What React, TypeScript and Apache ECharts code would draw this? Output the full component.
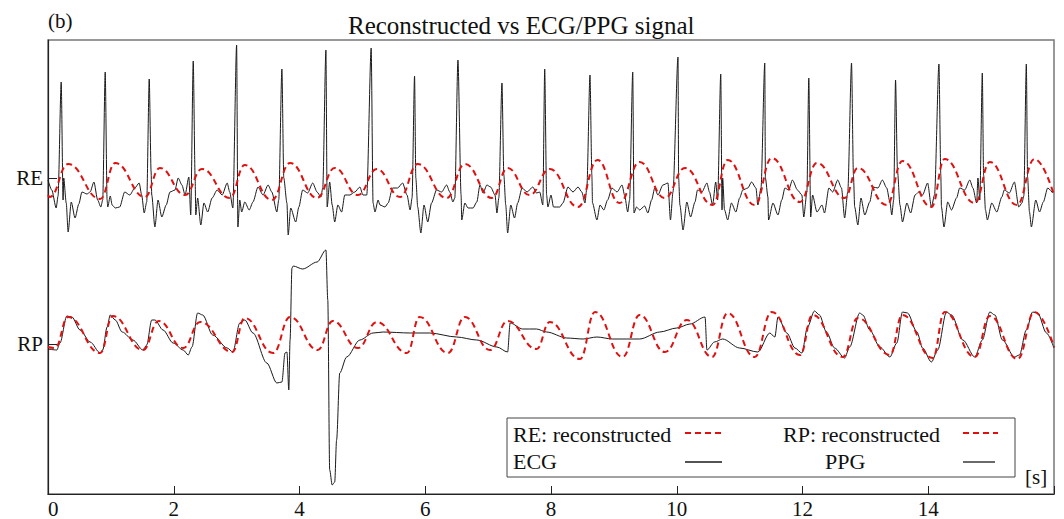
import React, { useEffect, useRef } from "react";
import * as echarts from "echarts";

// ---- data: [time s, amplitude] relative to each trace's baseline ----
const ecg: [number, number][] = [
  [0.0, -2], [0.06, -12], [0.13, -30], [0.16, -18], [0.21, 96], [0.24, -22], [0.25, 0], [0.29, -25], [0.32, -54],
  [0.37, -24], [0.43, -40], [0.49, -26], [0.54, -14], [0.62, -16], [0.67, -14], [0.73, -4], [0.79, -22], [0.84, -29],
  [0.87, -22], [0.91, 106], [0.94, -22], [0.95, -29], [0.99, -18], [1.02, -27], [1.07, -30], [1.14, -29], [1.22, -14],
  [1.3, -17], [1.38, -10], [1.45, -5], [1.49, -17], [1.53, -35], [1.57, -24], [1.61, 99], [1.64, 6], [1.65, -17],
  [1.7, -49], [1.75, -22], [1.81, -39], [1.88, -27], [1.94, -14], [2.02, -12], [2.07, 0], [2.13, -7], [2.18, -17],
  [2.24, 1], [2.27, -37], [2.31, 117], [2.34, 0], [2.35, -37], [2.38, -20], [2.43, -47], [2.48, -25], [2.54, -34],
  [2.61, -20], [2.69, -12], [2.77, -17], [2.85, -5], [2.89, -14], [2.94, -30], [3.0, 133], [3.02, -49], [3.05, -22],
  [3.08, -34], [3.13, -24], [3.2, -32], [3.26, -24], [3.34, -9], [3.42, -17], [3.5, -7], [3.56, -14], [3.64, -34],
  [3.67, -22], [3.72, 109], [3.75, 0], [3.8, -25], [3.82, -57], [3.86, -30], [3.94, -44], [3.99, -29], [4.05, -12],
  [4.13, -15], [4.21, -5], [4.28, -14], [4.34, -19], [4.37, -10], [4.42, 128], [4.44, -29], [4.48, -4], [4.52, -27],
  [4.56, -44], [4.61, -27], [4.67, -34], [4.72, -17], [4.8, -17], [4.88, -14], [4.96, -9], [5.01, -17], [5.07, -17],
  [5.14, 130], [5.17, -25], [5.2, -34], [5.25, -22], [5.28, -27], [5.36, -29], [5.41, -25], [5.48, -10], [5.56, -10],
  [5.64, -5], [5.71, -17], [5.76, -32], [5.79, -20], [5.83, 102], [5.85, 0], [5.88, -29], [5.93, -55], [5.98, -27],
  [6.04, -44], [6.1, -25], [6.18, -12], [6.26, -14], [6.34, -7], [6.39, -14], [6.44, -24], [6.47, -20], [6.52, 118],
  [6.57, -17], [6.58, -42], [6.63, -25], [6.68, -30], [6.76, -30], [6.82, -24], [6.87, -7], [6.92, -15], [6.98, -7],
  [7.04, -9], [7.11, -17], [7.14, -35], [7.17, -20], [7.22, 95], [7.25, 3], [7.28, -27], [7.31, -55], [7.36, -27],
  [7.42, -40], [7.47, -25], [7.54, -10], [7.62, -14], [7.71, -9], [7.77, -15], [7.82, -14], [7.87, -27], [7.9, 109],
  [7.93, -17], [7.95, -29], [8.0, -17], [8.04, -29], [8.14, -29], [8.19, -25], [8.27, -9], [8.35, -14], [8.43, -9],
  [8.49, -14], [8.54, -25], [8.57, -10], [8.62, 103], [8.65, 3], [8.66, -25], [8.73, -42], [8.78, -27], [8.84, -32],
  [8.9, -22], [8.97, -10], [9.05, -14], [9.13, -7], [9.17, -17], [9.22, -34], [9.25, -22], [9.3, 106], [9.32, -35],
  [9.36, -29], [9.41, -32], [9.49, -28], [9.54, -35], [9.6, -22], [9.65, -10], [9.7, -17], [9.78, -7], [9.86, -5],
  [9.9, -42], [9.94, -14], [10.02, 121], [10.03, 0], [10.05, -27], [10.1, -52], [10.16, -24], [10.22, -39], [10.29, -24],
  [10.33, -12], [10.4, -14], [10.48, -5], [10.52, -14], [10.57, -27], [10.62, -4], [10.65, -22], [10.7, 104], [10.72, -32],
  [10.73, 0], [10.76, -32], [10.81, -42], [10.87, -25], [10.94, -34], [11.0, -20], [11.05, -12], [11.13, -10], [11.19, -4],
  [11.26, -10], [11.29, -27], [11.34, -10], [11.4, 115], [11.41, 0], [11.45, -19], [11.46, -42], [11.53, -25], [11.61, -37],
  [11.67, -22], [11.72, -10], [11.78, -12], [11.84, -2], [11.92, -12], [11.99, -17], [12.02, -39], [12.07, -14], [12.1, 100],
  [12.13, -39], [12.16, -17], [12.23, -34], [12.31, -27], [12.35, -35], [12.42, -10], [12.48, -14], [12.56, -2], [12.62, -10],
  [12.67, -40], [12.72, -14], [12.78, 115], [12.81, 3], [12.83, -29], [12.88, -47], [12.93, -20], [12.99, -37], [13.07, -24],
  [13.12, -9], [13.2, -10], [13.27, -2], [13.34, -10], [13.39, -24], [13.42, -37], [13.45, -22], [13.48, 98], [13.51, 8],
  [13.55, -27], [13.59, -44], [13.66, -25], [13.72, -35], [13.79, -17], [13.85, -14], [13.91, -17], [13.99, -5], [14.05, -29],
  [14.1, -17], [14.17, 114], [14.2, 3], [14.21, -29], [14.25, -49], [14.31, -24], [14.37, -32], [14.45, -20], [14.5, -10],
  [14.58, -12], [14.66, -2], [14.71, -10], [14.77, -25], [14.79, 0], [14.82, -22], [14.86, 105], [14.88, 3], [14.91, -32],
  [14.94, -42], [15.01, -25], [15.09, -34], [15.17, -19], [15.21, -12], [15.29, -15], [15.37, -4], [15.44, -29], [15.49, -25],
  [15.52, -18], [15.56, 114], [15.58, 1], [15.61, -34], [15.64, -49], [15.71, -22], [15.77, -34], [15.83, -24], [15.9, -10],
  [15.98, -15],
];

const reRecon: [number, number][] = [
  [0, -17], [0.03, -19], [0.32, 14], [0.83, -21], [1.07, 15], [1.54, -19], [1.78, 10], [2.18, -17], [2.45, 9],
  [2.89, -20], [3.13, 13], [3.56, -22], [3.85, 15], [4.28, -20], [4.56, 10], [4.93, -17], [5.23, 9], [5.6, -19],
  [5.88, 14], [6.34, -20], [6.63, 14], [7.06, -20], [7.31, 10], [7.66, -17], [7.98, 9], [8.43, -29], [8.74, 18],
  [9.09, -25], [9.41, 16], [9.81, -20], [10.13, 10], [10.57, -27], [10.81, 18], [11.24, -27], [11.51, 20], [11.96, -24],
  [12.23, 15], [12.67, -20], [12.88, 10], [13.34, -27], [13.59, 17], [14.05, -29], [14.26, 19], [14.74, -25], [14.98, 16],
  [15.41, -27], [15.69, 19], [16.0, -17],
];

const ppg: [number, number][] = [
  [0.0, -5], [0.14, -6], [0.19, 1], [0.3, 28], [0.38, 27], [0.51, 14], [0.67, 2], [0.83, -9], [0.87, -6], [0.94, 17],
  [0.99, 29], [1.07, 24], [1.18, 12], [1.35, 4], [1.51, -6], [1.57, -1], [1.65, 24], [1.7, 24], [1.83, 14], [1.99, 1],
  [2.15, -6], [2.23, -11], [2.29, -3], [2.38, 31], [2.46, 29], [2.62, 9], [2.85, -4], [2.94, -8], [3.05, 21], [3.13, 24],
  [3.26, 11], [3.48, -19], [3.64, -39], [3.72, -38], [3.77, -9], [3.8, -8], [3.83, -46], [3.85, 4], [3.88, 76], [3.9, 78],
  [4.05, 75], [4.28, 82], [4.42, 94], [4.45, 44], [4.48, -126], [4.52, -141], [4.56, -138], [4.59, -96], [4.64, -29],
  [4.75, -13], [4.96, 4], [5.17, 11], [5.33, 12], [5.76, 11], [6.07, 11], [6.5, 7], [6.82, 4], [7.14, -3], [7.31, -8],
  [7.35, 21], [7.55, 15], [7.77, 15], [7.93, 12], [8.25, 6], [8.51, 5], [8.73, 7], [8.98, 5], [9.41, 5], [9.73, 12],
  [10.0, 16], [10.21, 20], [10.45, 27], [10.48, -6], [10.6, 2], [10.73, 5], [11.0, -4], [11.29, -8], [11.48, 11],
  [11.56, 7], [11.61, 27], [11.75, 11], [11.88, -4], [11.99, -9], [12.08, 17], [12.19, 33], [12.27, 29], [12.38, 12],
  [12.51, -4], [12.67, -14], [12.75, -3], [12.91, 31], [12.96, 29], [13.07, 14], [13.23, -3], [13.39, -13], [13.5, 1],
  [13.59, 32], [13.67, 31], [13.82, 12], [13.91, -4], [14.05, -18], [14.15, -6], [14.29, 32], [14.37, 29], [14.55, 4],
  [14.74, -13], [14.86, 4], [14.98, 32], [15.06, 29], [15.18, 4], [15.37, -13], [15.45, -11], [15.56, 14], [15.66, 32],
  [15.74, 31], [15.88, 11], [16.0, -4],
];

const rpRecon: [number, number][] = [
  [0, -3], [0.11, -4], [0.32, 27], [0.83, -9], [1.03, 28], [1.51, -6], [1.76, 23], [2.15, -4], [2.42, 22], [2.93, -8],
  [3.13, 26], [3.58, -9], [3.85, 27], [4.29, -6], [4.53, 23], [4.93, -4], [5.23, 22], [5.71, -9], [5.91, 27], [6.36, -9],
  [6.63, 27], [7.03, -6], [7.31, 23], [7.77, -5], [7.98, 22], [8.46, -15], [8.7, 32], [9.14, -13], [9.41, 29], [9.81, -8],
  [10.16, 24], [10.56, -13], [10.81, 31], [11.24, -13], [11.51, 32], [11.96, -11], [12.16, 29], [12.64, -13], [12.88, 26],
  [13.39, -11], [13.59, 29], [14.07, -14], [14.26, 32], [14.74, -13], [14.98, 28], [15.42, -15], [15.69, 32], [16.0, -3],
];

const xTicks = [0, 2, 4, 6, 8, 10, 12, 14];
const channelLabels = ["RP", "RE"];
const channelLevels = [150, 316];
const legendLabels = ["RE: reconstructed", "ECG", "RP: reconstructed", "PPG"];
const titleText = "Reconstructed vs ECG/PPG signal";

const SERIF = "'Liberation Serif', 'DejaVu Serif', serif";
const RED = "#e01010";
const BLACK = "#1a1a1a";

export default function App() {
  const ref = useRef<HTMLDivElement>(null);
  useEffect(() => {
    if (!ref.current) return;
    const chart = echarts.init(ref.current, undefined, { renderer: "svg" });
    const RE_BASE = channelLevels[1];
    const RP_BASE = channelLevels[0];
    const shift = (arr: [number, number][], b: number) => arr.map(([t, v]) => [t, v + b]);

    const legendX1 = 507, legendY1 = 418, legendX2 = 1015, legendY2 = 477;
    const lf = `22px ${SERIF}`;
    chart.setOption({
      animation: false,
      title: {
        text: titleText,
        left: 343,
        top: 8,
        textStyle: { fontFamily: SERIF, fontSize: 25, fontWeight: "normal", color: "#111" },
      },
      grid: {
        left: 48, right: 10, top: 40, bottom: 25,
        show: true, borderColor: "#777", borderWidth: 1.5, backgroundColor: "transparent",
      },
      xAxis: {
        type: "value", min: 0, max: 16, interval: 2,
        axisLine: { lineStyle: { color: "#222", width: 1.2 } },
        axisTick: { inside: true, length: 8, lineStyle: { color: "#222" } },
        axisLabel: {
          margin: 4, fontFamily: SERIF, fontSize: 21, color: "#111", alignMinLabel: "left",
          formatter: (v: number) => (xTicks.includes(v) ? String(v) : ""),
        },
        splitLine: { show: false },
      },
      yAxis: {
        type: "value", min: 0, max: 454,
        axisLine: { show: true, lineStyle: { color: "#222", width: 1.2 } },
        axisTick: { show: true, inside: true, length: 9, customValues: channelLevels, lineStyle: { color: "#222" } },
        axisLabel: {
          margin: 5, fontFamily: SERIF, fontSize: 21, color: "#111", customValues: channelLevels,
          formatter: (v: number) => channelLabels[channelLevels.indexOf(v)] ?? "",
        },
        splitLine: { show: false },
      },
      series: [
        {
          type: "line", data: shift(ecg, RE_BASE), symbol: "none", smooth: 0.25, smoothMonotone: "x",
          lineStyle: { color: BLACK, width: 1 }, z: 2,
        },
        {
          type: "line", data: shift(reRecon, RE_BASE), symbol: "none", smooth: 0.45, smoothMonotone: "x",
          lineStyle: { color: RED, width: 2, type: [6, 4] }, z: 3,
        },
        {
          type: "line", data: shift(ppg, RP_BASE), symbol: "none", smooth: 0.3, smoothMonotone: "x",
          lineStyle: { color: BLACK, width: 1 }, z: 2,
        },
        {
          type: "line", data: shift(rpRecon, RP_BASE), symbol: "none", smooth: 0.45, smoothMonotone: "x",
          lineStyle: { color: RED, width: 2, type: [6, 4] }, z: 3,
        },
      ],
      graphic: [
        {
          type: "text", left: 48, top: 10,
          style: { text: "(b)", font: `21px ${SERIF}`, fill: "#111" },
        },
        {
          type: "text", left: 1025, top: 466,
          style: { text: "[s]", font: `21px ${SERIF}`, fill: "#111" },
        },
        {
          type: "rect", z: 10,
          shape: { x: legendX1, y: legendY1, width: legendX2 - legendX1, height: legendY2 - legendY1 },
          style: { fill: "#fff", stroke: "#444", lineWidth: 1 },
        },
        { type: "text", z: 11, x: 513, y: 434, style: { text: legendLabels[0], font: lf, fill: "#111", verticalAlign: "middle" } },
        { type: "line", z: 11, shape: { x1: 685, y1: 433, x2: 722, y2: 433 }, style: { stroke: RED, lineWidth: 2, lineDash: [6, 4] } },
        { type: "text", z: 11, x: 513, y: 461, style: { text: legendLabels[1], font: lf, fill: "#111", verticalAlign: "middle" } },
        { type: "line", z: 11, shape: { x1: 685, y1: 462, x2: 722, y2: 462 }, style: { stroke: BLACK, lineWidth: 1.3 } },
        { type: "text", z: 11, x: 783, y: 434, style: { text: legendLabels[2], font: lf, fill: "#111", verticalAlign: "middle" } },
        { type: "line", z: 11, shape: { x1: 963, y1: 433, x2: 998, y2: 433 }, style: { stroke: RED, lineWidth: 2, lineDash: [6, 4] } },
        { type: "text", z: 11, x: 825, y: 461, style: { text: legendLabels[3], font: lf, fill: "#111", verticalAlign: "middle" } },
        { type: "line", z: 11, shape: { x1: 963, y1: 462, x2: 995, y2: 462 }, style: { stroke: BLACK, lineWidth: 1.3 } },
      ],
    });
    return () => chart.dispose();
  }, []);
  return (
    <div
      ref={ref}
      style={{ position: "absolute", left: 0, top: 0, width: 1064, height: 519, background: "#fff" }}
    />
  );
}
